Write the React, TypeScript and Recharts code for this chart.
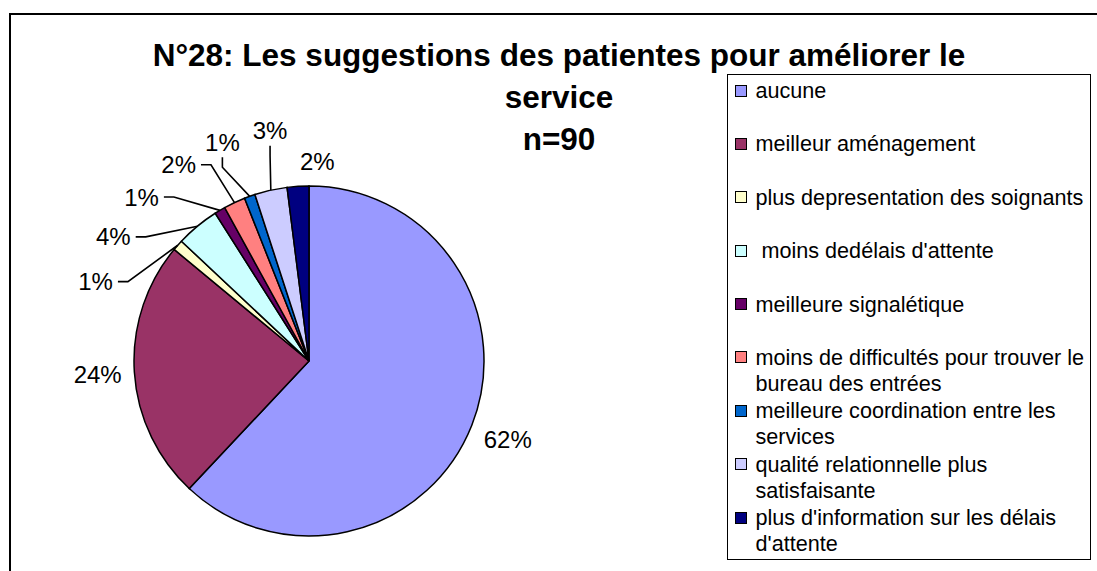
import React from "react";
import { PieChart, Pie, Cell, Legend } from "recharts";

// Question 28 – suggestions des patientes (n=90), shares in %
const categories = [
  "aucune",
  "meilleur aménagement",
  "plus depresentation des soignants",
  " moins dedélais d'attente",
  "meilleure signalétique",
  "moins de difficultés pour trouver le bureau des entrées",
  "meilleure coordination entre les services",
  "qualité relationnelle plus satisfaisante",
  "plus d'information sur les délais d'attente",
];
const shares = [62, 24, 1, 4, 1, 2, 1, 3, 2];
const colors = [
  "#9999FF",
  "#993366",
  "#FFFFCC",
  "#CCFFFF",
  "#660066",
  "#FF8080",
  "#0066CC",
  "#CCCCFF",
  "#000080",
];
const titleLines = ["N°28: Les suggestions des patientes pour améliorer le", "service", "n=90"];

const FONT = '"Liberation Sans", Arial, sans-serif';
const data = categories.map((name, i) => ({ name, value: shares[i] }));

// mid angle of each slice, in degrees clockwise from 12 o'clock
const total = shares.reduce((s, v) => s + v, 0);
const midCw: number[] = [];
{
  let acc = 0;
  shares.forEach((v) => {
    midCw.push(((acc + v / 2) / total) * 360);
    acc += v;
  });
}

// the trailing run of small slices (< 5%) get their labels fanned out
// evenly, ending just past 12 o'clock
const SMALL = 5;
const FAN_GAP = 12;
const labelCw = [...midCw];
const isSmall = shares.map(() => false);
{
  const last = shares.length - 1;
  let k = last;
  while (k >= 0 && (shares[k] / total) * 100 < SMALL) {
    isSmall[k] = true;
    k--;
  }
  const anchor = midCw[last] + FAN_GAP / 2;
  for (let i = last; i > k; i--) labelCw[i] = anchor - FAN_GAP * (last - i);
}

function renderLabel(props: any) {
  const { cx, cy, outerRadius, index, percent } = props;
  const mid = midCw[index];
  const la = labelCw[index];
  const text = `${Math.round(percent * 100)}%`;
  const fs = 24;
  const hw = ((0.556 * (text.length - 1) + 0.889) * fs) / 2;
  const hh = fs * 0.5;
  const rad = (la * Math.PI) / 180;
  const s = Math.sin(rad);
  const c = Math.cos(rad);
  const leader = isSmall[index] && s < -0.05;
  const gap = leader ? 26 + 18 * Math.abs(c) : 12;
  const d = outerRadius + gap + Math.abs(s) * hw + Math.abs(c) * hh;
  const tx = cx + d * s;
  const ty = cy - d * c;

  let line = null;
  if (leader) {
    const mr = (mid * Math.PI) / 180;
    const ex = cx + outerRadius * Math.sin(mr);
    const ey = cy - outerRadius * Math.cos(mr);
    let pts: number[][];
    if (c > 0.9) {
      const y1 = ty + hh + 3;
      pts = [[tx, y1], [tx, y1 + 10], [ex, ey]];
    } else {
      const x1 = tx + hw + 5;
      pts = [[x1, ty], [x1 + 10, ty], [ex, ey]];
    }
    line = (
      <polyline
        points={pts.map((p) => p.join(",")).join(" ")}
        fill="none"
        stroke="#000"
        strokeWidth={1.6}
      />
    );
  }

  return (
    <g key={`lbl-${index}`}>
      {line}
      <text
        x={tx}
        y={ty}
        textAnchor="middle"
        dominantBaseline="central"
        fontFamily={FONT}
        fontSize={fs}
        fill="#000"
      >
        {text}
      </text>
    </g>
  );
}

function LegendBox({ payload }: any) {
  const items = [...(payload || [])].sort(
    (a: any, b: any) => categories.indexOf(a.value) - categories.indexOf(b.value)
  );
  return (
    <div
      style={{
        boxSizing: "border-box",
        width: 364,
        height: 486,
        border: "1.5px solid #000",
        background: "#fff",
        paddingTop: 3,
        fontFamily: FONT,
        color: "#000",
      }}
    >
      {items.map((entry: any, i: number) => (
        <div key={i} style={{ height: 53.4, display: "flex", alignItems: "flex-start" }}>
          <span
            style={{
              flex: "none",
              width: 10,
              height: 10,
              border: "1px solid #000",
              background: colors[categories.indexOf(entry.value)] ?? entry.color,
              marginLeft: 6.5,
              marginTop: 6.5,
            }}
          />
          <span
            style={{
              marginLeft: 9,
              width: 334,
              fontSize: 21.6,
              lineHeight: "26px",
              whiteSpace: "pre-wrap",
            }}
          >
            {entry.value}
          </span>
        </div>
      ))}
    </div>
  );
}

export default function App() {
  return (
    <div
      style={{
        position: "relative",
        width: 1097,
        height: 571,
        overflow: "hidden",
        background: "#fff",
        fontFamily: FONT,
      }}
    >
      <style>{"html, body { margin: 0; padding: 0; overflow: hidden; }"}</style>
      {/* outer chart frame: only its top and left edges fall inside the picture */}
      <div
        style={{
          position: "absolute",
          left: 9,
          top: 13,
          width: 1200,
          height: 700,
          borderTop: "2px solid #000",
          borderLeft: "2px solid #000",
        }}
      />
      <PieChart width={1097} height={571} margin={{ top: 0, right: 0, bottom: 0, left: 0 }}>
        <Pie
          data={data}
          dataKey="value"
          nameKey="name"
          cx={309}
          cy={361}
          outerRadius={175}
          startAngle={90}
          endAngle={-270}
          stroke="#000"
          strokeWidth={1.5}
          label={renderLabel}
          labelLine={false}
          isAnimationActive={false}
        >
          {data.map((d, i) => (
            <Cell key={d.name} fill={colors[i]} />
          ))}
        </Pie>
        <Legend
          layout="vertical"
          align="right"
          verticalAlign="top"
          content={<LegendBox />}
          wrapperStyle={{ left: 727, top: 74, width: 364, height: 486 }}
        />
      </PieChart>
      <div
        style={{
          position: "absolute",
          left: 59,
          top: 34,
          width: 1000,
          textAlign: "center",
          fontWeight: "bold",
          fontSize: 31.5,
          lineHeight: "42px",
          color: "#000",
          whiteSpace: "nowrap",
        }}
      >
        {titleLines.map((t) => (
          <div key={t}>{t}</div>
        ))}
      </div>
    </div>
  );
}
